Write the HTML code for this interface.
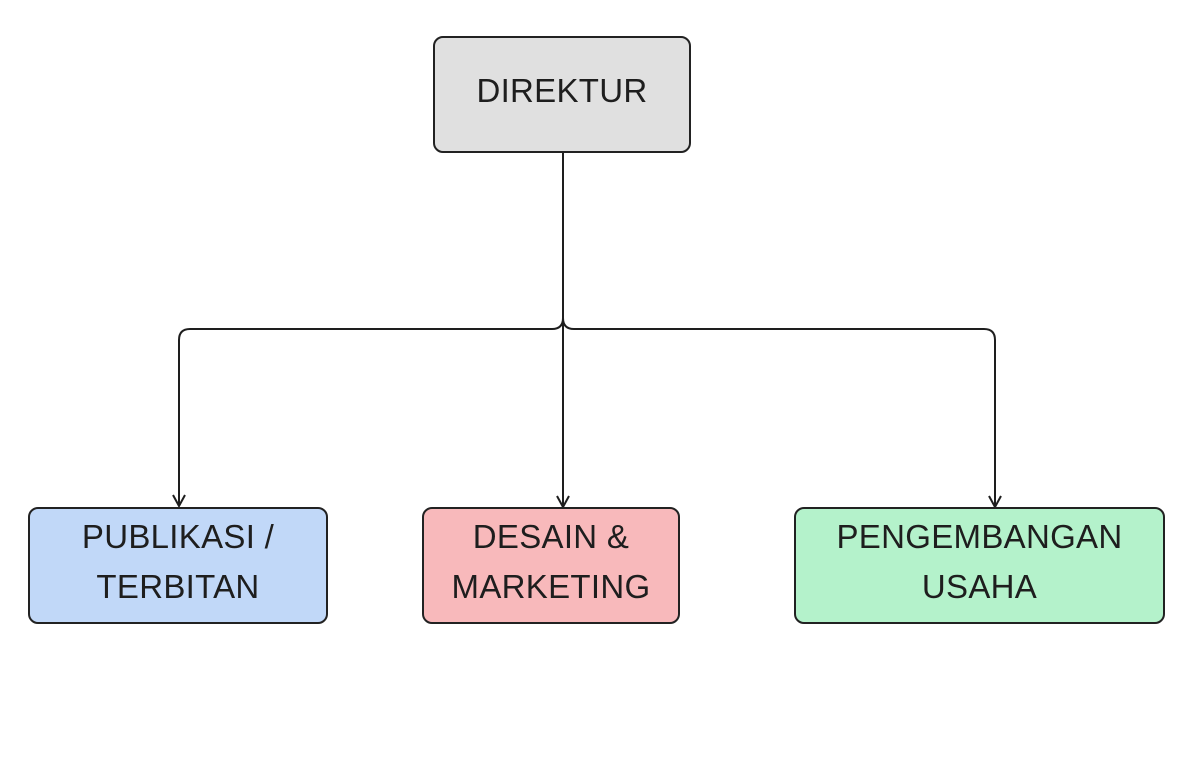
<!DOCTYPE html>
<html><head><style>
body{margin:0;width:1187px;height:768px;background:#fff;overflow:hidden;position:relative;font-family:"Liberation Sans",sans-serif;}
.b{position:absolute;box-sizing:border-box;border:2px solid #222;border-radius:10px;display:flex;align-items:center;justify-content:center;text-align:center;font-size:33px;line-height:50px;color:#1e1e1e;letter-spacing:0.3px;padding-bottom:8px}
</style></head><body>
<svg width="1187" height="768" style="position:absolute;left:0;top:0" fill="none" stroke="#1e1e1e" stroke-width="2">
<path d="M563 153 L563 318 Q563 329 552 329 L190 329 Q179 329 179 340 L179 505"/>
<path d="M563 318 Q563 329 574 329 L984 329 Q995 329 995 340 L995 506"/>
<path d="M563 318 L563 507"/>
<path d="M173 495 L179 506 L185 495 M557 496 L563 507 L569 496 M989 496 L995 507 L1001 496"/>
</svg>
<div class="b" style="left:433px;top:36px;width:258px;height:117px;background:#e0e0e0">DIREKTUR</div>
<div class="b" style="left:28px;top:507px;width:300px;height:117px;background:#c1d8f8">PUBLIKASI /<br>TERBITAN</div>
<div class="b" style="left:422px;top:507px;width:258px;height:117px;background:#f8b9bb">DESAIN &amp;<br>MARKETING</div>
<div class="b" style="left:794px;top:507px;width:371px;height:117px;background:#b4f2cb">PENGEMBANGAN<br>USAHA</div>
</body></html>
